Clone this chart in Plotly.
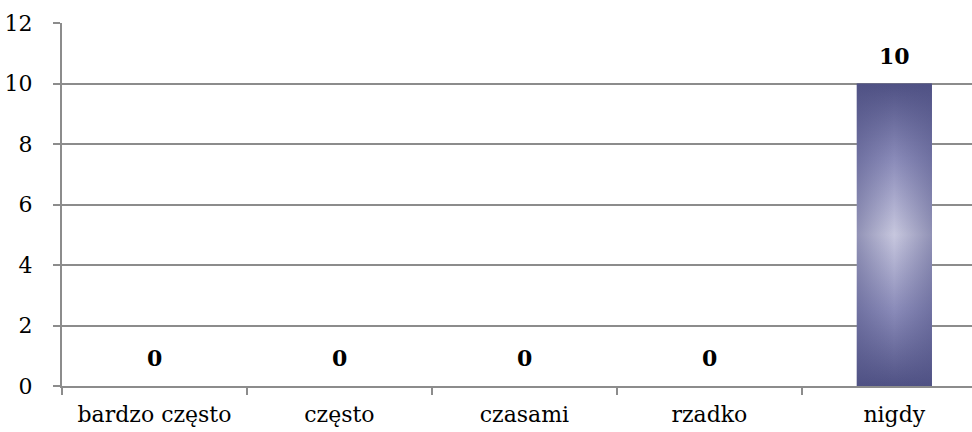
import plotly.graph_objects as go

FONT = "DejaVu Serif"

# -------------------------------------------------
# Data
# -------------------------------------------------
categories = ["bardzo często", "często", "czasami", "rzadko", "nigdy"]
values = [0, 0, 0, 0, 10]
y_ticks = [0, 2, 4, 6, 8, 10, 12]

BAR_HALF = 0.203
positions = list(range(len(categories)))

fig = go.Figure()

# flat fallback bar
fig.add_bar(
    x=positions,
    y=values,
    width=BAR_HALF * 2,
    marker=dict(color="#6d6fa2", line=dict(width=0)),
    hoverinfo="skip",
    showlegend=False,
)

# gradient overlay (vertical + horizontal) for each non-zero bar
gradients = [
    dict(type="vertical",
         colorscale=[[0, "#4f5184"], [0.25, "#8a8bb9"], [0.5, "#c7c7de"],
                     [0.75, "#8a8bb9"], [1, "#4f5184"]]),
    dict(type="horizontal",
         colorscale=[[0, "rgba(79,81,132,0.45)"], [0.5, "rgba(79,81,132,0)"],
                     [1, "rgba(79,81,132,0.45)"]]),
]
for pos, val in zip(positions, values):
    if val <= 0:
        continue
    for grad in gradients:
        fig.add_trace(
            go.Scatter(
                x=[pos - BAR_HALF, pos + BAR_HALF, pos + BAR_HALF, pos - BAR_HALF, pos - BAR_HALF],
                y=[0, 0, val, val, 0],
                mode="lines",
                line=dict(width=0),
                fill="toself",
                fillgradient=grad,
                hoverinfo="skip",
                showlegend=False,
            )
        )

# value labels
for pos, val in zip(positions, values):
    fig.add_annotation(
        x=pos,
        y=val,
        text=f"<b>{val}</b>",
        showarrow=False,
        yanchor="bottom",
        yshift=13,
        font=dict(family=FONT, size=22, color="#000000"),
    )

fig.update_layout(
    width=972,
    height=432,
    plot_bgcolor="white",
    paper_bgcolor="white",
    margin=dict(l=62, r=0, t=23, b=46),
    font=dict(family=FONT, size=22, color="#000000"),
    showlegend=False,
    bargap=0,
)

fig.update_xaxes(
    range=[-0.5, 4.42],
    tickvals=positions,
    ticktext=categories,
    ticks="",
    showgrid=False,
    zeroline=False,
    showline=True,
    linecolor="#8c8c8c",
    linewidth=2,
    ticklabelstandoff=8,
    automargin=False,
    minor=dict(
        tickvals=[-0.5, 0.5, 1.5, 2.5, 3.5],
        ticks="outside",
        ticklen=7,
        tickcolor="#8c8c8c",
        tickwidth=2,
        showgrid=False,
    ),
)

fig.update_yaxes(
    range=[0, 12],
    tickvals=y_ticks,
    ticks="outside",
    ticklen=7,
    tickcolor="#8c8c8c",
    tickwidth=2,
    showgrid=True,
    gridcolor="#8c8c8c",
    gridwidth=2,
    zeroline=False,
    showline=True,
    linecolor="#8c8c8c",
    linewidth=2,
    ticklabelstandoff=16,
    automargin=False,
)

fig.write_html(
    "out.html",
    config={"displayModeBar": False},
    post_script="document.body.style.margin='0';",
)
